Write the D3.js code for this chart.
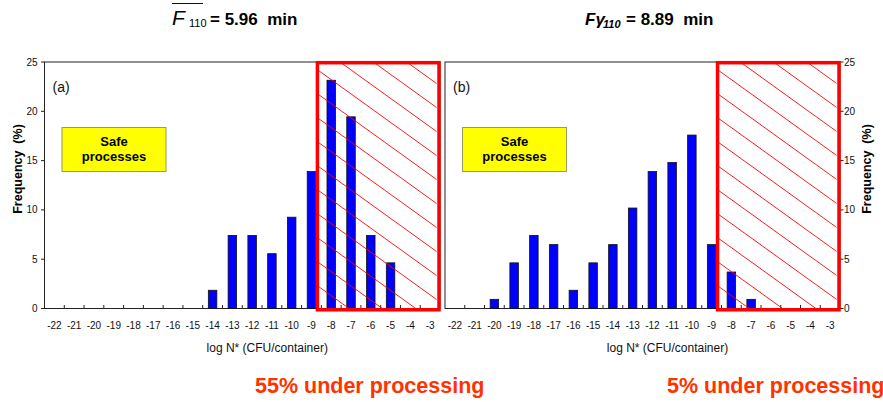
<!DOCTYPE html>
<html>
<head>
<meta charset="utf-8">
<script src="https://cdn.jsdelivr.net/npm/d3@7"></script>
<style>
  body { margin: 0; background: #fff; }
  svg { display: block; }
  text { font-family: "Liberation Sans", Arial, sans-serif; }
</style>
</head>
<body>
<svg id="chart" width="883" height="402"></svg>
<script>
// log N* classes (CFU/container), shared by both panels
const categories = [-22, -21, -20, -19, -18, -17, -16, -15, -14, -13, -12, -11, -10, -9, -8, -7, -6, -5, -4, -3];
// Frequency (%) of each class, panel (a): mean F110 process
const freqA = [0, 0, 0, 0, 0, 0, 0, 0, 1.85, 7.41, 7.41, 5.56, 9.26, 13.89, 23.15, 19.44, 7.41, 4.63, 0, 0];
// Frequency (%) of each class, panel (b): reference F110 process
const freqB = [0, 0, 0.93, 4.63, 7.41, 6.48, 1.85, 4.63, 6.48, 10.19, 13.89, 14.81, 17.59, 6.48, 3.70, 0.93, 0, 0, 0, 0];
const yTicks = [0, 5, 10, 15, 20, 25];
const panelTags = ["(a)", "(b)"];
const processValues = ["5.96", "8.89"];
// first class counted as under-processed
const unsafeFrom = -8;

const svg = d3.select("#chart");
const TOP = 62, BOTTOM = 308.5;
const y = d3.scaleLinear().domain([0, 25]).range([BOTTOM, TOP]);

const panels = [
  { x0: 44.5, x1: 440, data: freqA, tag: panelTags[0], axis: "left" },
  { x0: 445, x1: 840, data: freqB, tag: panelTags[1], axis: "right" }
];

panels.forEach((p, pi) => {
  const g = svg.append("g");
  const x = d3.scaleBand().domain(categories).range([p.x0, p.x1]).paddingInner(0).paddingOuter(0);
  const bw = x.bandwidth();

  // plot frame
  g.append("rect")
    .attr("x", p.x0).attr("y", TOP)
    .attr("width", p.x1 - p.x0).attr("height", BOTTOM - TOP)
    .attr("fill", "none").attr("stroke", "#222").attr("stroke-width", 1);

  // category boundary ticks on the x axis (inside)
  const bounds = categories.slice(1).map(c => x(c));
  g.selectAll(".xt").data(bounds).enter().append("line")
    .attr("x1", d => d).attr("x2", d => d)
    .attr("y1", BOTTOM).attr("y2", BOTTOM - 3.5)
    .attr("stroke", "#222").attr("stroke-width", 1);

  // x tick labels
  g.selectAll(".xl").data(categories).enter().append("text")
    .attr("x", d => x(d) + bw / 2).attr("y", 329)
    .attr("text-anchor", "middle").attr("font-size", 10).attr("fill", "#111")
    .text(d => d);

  // y axis ticks and labels
  const left = p.axis === "left";
  const ax = left ? p.x0 : p.x1;
  g.selectAll(".yt").data(yTicks).enter().append("line")
    .attr("x1", ax).attr("x2", left ? ax - 3.5 : ax + 3.5)
    .attr("y1", d => y(d)).attr("y2", d => y(d))
    .attr("stroke", "#222");
  g.selectAll(".yl").data(yTicks).enter().append("text")
    .attr("x", left ? ax - 7 : ax + 4)
    .attr("y", d => y(d) + 3.5)
    .attr("text-anchor", left ? "end" : "start")
    .attr("font-size", 10).attr("fill", "#111")
    .text(d => d);

  // y axis title
  const tx = left ? 17.5 : 867;
  g.append("text")
    .attr("transform", `translate(${tx},169) rotate(-90)`)
    .attr("text-anchor", "middle").attr("dominant-baseline", "central")
    .attr("font-size", 12.5).attr("font-weight", "bold")
    .attr("xml:space", "preserve")
    .text("Frequency  (%)");

  // x axis title
  g.append("text")
    .attr("x", (p.x0 + p.x1) / 2 + 25).attr("y", 352)
    .attr("text-anchor", "middle").attr("font-size", 12).attr("fill", "#111")
    .text("log N* (CFU/container)");

  // bars
  const barW = bw * 0.43;
  g.selectAll(".bar").data(categories.map((c, i) => ({ c, v: p.data[i] })).filter(d => d.v > 0))
    .enter().append("rect")
    .attr("x", d => x(d.c) + (bw - barW) / 2)
    .attr("y", d => y(d.v))
    .attr("width", barW)
    .attr("height", d => y(0) - y(d.v))
    .attr("fill", "#0000ff").attr("stroke", "#111").attr("stroke-width", 0.8);

  // panel tag
  g.append("text").attr("x", p.x0 + 8).attr("y", 92)
    .attr("font-size", 14).attr("fill", "#111").text(p.tag);

  // "Safe processes" label box
  const sx = p.x0 + 17.5, sy = 127.5;
  g.append("rect").attr("x", sx).attr("y", sy).attr("width", 104).attr("height", 44)
    .attr("fill", "#ffff00").attr("stroke", "#9a9a60").attr("stroke-width", 1);
  g.append("text").attr("x", sx + 52).attr("y", sy + 18.5)
    .attr("text-anchor", "middle").attr("font-size", 13).attr("font-weight", "bold")
    .text("Safe");
  g.append("text").attr("x", sx + 52).attr("y", sy + 33)
    .attr("text-anchor", "middle").attr("font-size", 13).attr("font-weight", "bold")
    .text("processes");

  // hatched under-processing zone
  const bx0 = x(-9) + bw * 0.8;
  const bx1 = p.x1 - 1;
  const by0 = TOP + 0.7, by1 = BOTTOM + 1.3;
  const clipId = "clip" + pi;
  g.append("clipPath").attr("id", clipId).append("rect")
    .attr("x", bx0 + 1).attr("y", by0 + 1)
    .attr("width", bx1 - bx0 - 3.5).attr("height", by1 - by0 - 2);
  const slope = 0.72, step = 24;
  const hatch = [];
  for (let k = -8; k < 14; k++) hatch.push(by0 + 7 + k * step);
  g.append("g").attr("clip-path", `url(#${clipId})`)
    .selectAll("line").data(hatch).enter().append("line")
    .attr("x1", bx0).attr("y1", d => d)
    .attr("x2", bx1 + 10).attr("y2", d => d + (bx1 + 10 - bx0) * slope)
    .attr("stroke", "#ff0000").attr("stroke-width", 0.9);
  g.append("rect")
    .attr("x", bx0).attr("y", by0)
    .attr("width", bx1 - bx0).attr("height", by1 - by0)
    .attr("fill", "none").attr("stroke", "#ff0000").attr("stroke-width", 3.5);

  // share of under-processed containers
  const under = d3.sum(categories.map((c, i) => (c >= unsafeFrom ? p.data[i] : 0)));
  p.under = Math.round(under) + "% under processing";
});

// titles above each panel
const t1 = svg.append("g");
t1.append("line").attr("x1", 172).attr("x2", 203).attr("y1", 3.5).attr("y2", 3.5)
  .attr("stroke", "#111").attr("stroke-width", 1);
t1.append("text").attr("x", 172).attr("y", 25)
  .attr("font-family", "Liberation Serif, serif").attr("font-style", "italic")
  .attr("font-size", 21).text("F");
t1.append("text").attr("x", 189).attr("y", 27)
  .attr("font-family", "Liberation Serif, serif").attr("font-size", 11).text("110");
t1.append("text").attr("x", 210).attr("y", 25).attr("xml:space", "preserve")
  .attr("font-size", 17).attr("font-weight", "bold").text("= " + processValues[0] + "  min");

const t2 = svg.append("g");
t2.append("text").attr("x", 585).attr("y", 25)
  .attr("font-size", 17).attr("font-weight", "bold").attr("font-style", "italic").text("Fγ");
t2.append("text").attr("x", 603).attr("y", 27.5)
  .attr("font-size", 11).attr("font-weight", "bold").attr("font-style", "italic").text("110");
t2.append("text").attr("x", 626).attr("y", 25).attr("xml:space", "preserve")
  .attr("font-size", 17).attr("font-weight", "bold").text("= " + processValues[1] + "  min");

// under-processing captions
svg.append("text").attr("x", 255).attr("y", 393)
  .attr("font-size", 21.5).attr("font-weight", "bold").attr("fill", "#ff3300")
  .text(panels[0].under);
svg.append("text").attr("x", 667).attr("y", 393)
  .attr("font-size", 21.5).attr("font-weight", "bold").attr("fill", "#ff3300")
  .text(panels[1].under);
</script>
</body>
</html>
